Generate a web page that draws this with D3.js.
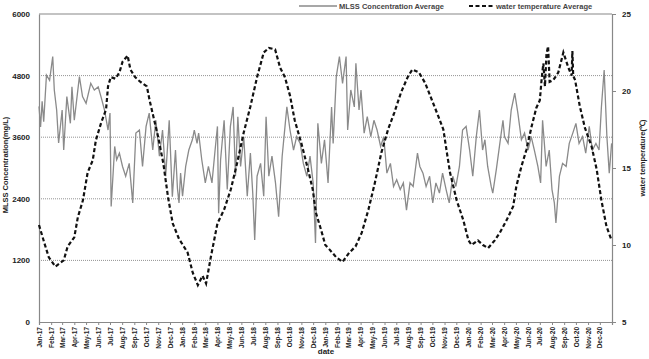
<!DOCTYPE html>
<html>
<head>
<meta charset="utf-8">
<script src="https://cdn.jsdelivr.net/npm/d3@7"></script>
<style>
  body { margin: 0; background: #fff; }
  text { font-family: "Liberation Sans", Arial, sans-serif; }
</style>
</head>
<body>
<div id="chart"></div>
<script>
// MLSS concentration average (mg/L)
var mlssDates = [
  "2017-01-01","2017-01-05","2017-01-09","2017-01-13","2017-01-20","2017-01-28","2017-02-05","2017-02-09","2017-02-15","2017-02-20",
  "2017-03-01","2017-03-05","2017-03-13","2017-03-22","2017-03-26","2017-04-01","2017-04-14","2017-04-22","2017-05-01","2017-05-13",
  "2017-05-22","2017-06-01","2017-06-08","2017-06-17","2017-06-26","2017-07-01","2017-07-04","2017-07-13","2017-07-18","2017-07-25",
  "2017-08-02","2017-08-10","2017-08-19","2017-08-28","2017-09-05","2017-09-14","2017-09-22","2017-10-01","2017-10-09","2017-10-18",
  "2017-10-26","2017-11-04","2017-11-12","2017-11-20","2017-11-29","2017-12-07","2017-12-15","2017-12-20","2017-12-24","2017-12-28",
  "2018-01-02","2018-01-10","2018-01-18","2018-01-27","2018-02-01","2018-02-08","2018-02-12","2018-02-20","2018-03-01","2018-03-09",
  "2018-03-18","2018-03-26","2018-04-01","2018-04-04","2018-04-09","2018-04-18","2018-04-26","2018-05-04","2018-05-11","2018-05-17",
  "2018-05-23","2018-05-30","2018-06-07","2018-06-16","2018-06-24","2018-06-30","2018-07-05","2018-07-11","2018-07-20","2018-07-28",
  "2018-08-03","2018-08-10","2018-08-18","2018-08-27","2018-09-04","2018-09-13","2018-09-21","2018-09-25","2018-10-03","2018-10-12",
  "2018-10-20","2018-10-29","2018-11-06","2018-11-15","2018-11-23","2018-12-01","2018-12-07","2018-12-13","2018-12-22","2018-12-30",
  "2019-01-04","2019-01-08","2019-01-17","2019-01-21","2019-01-29","2019-02-06","2019-02-14","2019-02-23","2019-02-27","2019-03-07",
  "2019-03-16","2019-03-20","2019-03-28","2019-04-02","2019-04-10","2019-04-18","2019-04-27","2019-05-05","2019-05-13","2019-05-22",
  "2019-05-30","2019-06-07","2019-06-16","2019-06-24","2019-07-02","2019-07-11","2019-07-19","2019-07-27","2019-08-05","2019-08-13",
  "2019-08-24","2019-08-30","2019-09-07","2019-09-15","2019-09-24","2019-10-02","2019-10-10","2019-10-19","2019-10-27","2019-11-05",
  "2019-11-13","2019-11-22","2019-11-30","2019-12-09","2019-12-17","2019-12-26","2020-01-04","2020-01-12","2020-01-21","2020-01-29",
  "2020-02-06","2020-02-12","2020-02-19","2020-02-28","2020-03-03","2020-03-12","2020-03-20","2020-03-29","2020-04-02","2020-04-11",
  "2020-04-19","2020-04-28","2020-05-06","2020-05-15","2020-05-23","2020-06-01","2020-06-09","2020-06-17","2020-06-26","2020-07-03",
  "2020-07-08","2020-07-17","2020-07-25","2020-08-01","2020-08-07","2020-08-11","2020-08-20","2020-08-28","2020-09-06","2020-09-14",
  "2020-09-23","2020-10-01","2020-10-09","2020-10-18","2020-10-26","2020-11-04","2020-11-12","2020-11-21","2020-11-29","2020-12-05",
  "2020-12-12","2020-12-19","2020-12-25","2020-12-31"
];
var mlssValues = [
  4200,3800,4300,3900,4810,4710,5170,4520,4130,3490,
  4130,3350,4390,3870,4580,3930,4780,4390,4260,4650,
  4520,4580,4390,4130,3740,4070,2250,3420,3160,3290,
  3030,2840,3090,2320,3680,3740,3030,3810,4070,3350,
  3930,3230,3740,2840,3930,2440,3350,2600,2320,2900,
  2450,3030,3350,3550,3740,3480,3680,3160,2710,3030,
  2710,3350,3810,2120,3160,3930,2580,3810,4190,2840,
  4000,3030,3610,2450,3290,2510,1600,2840,3090,2450,
  4000,2840,3230,2710,2050,3230,3870,4190,3740,3350,
  3610,3480,3090,2840,3230,2710,1540,3870,3090,3550,
  3090,2710,4190,3480,4780,5170,4650,5170,3740,4520,
  4190,5040,4130,4520,3680,4000,3610,3930,3740,3420,
  3610,2900,3090,2640,2770,2580,2710,2180,2710,2640,
  3290,3030,2900,2640,2840,2320,2710,2510,2900,2580,
  2320,2840,2640,3030,3740,3810,3350,2840,3610,4130,
  3350,3550,3030,2640,2510,2970,3420,3930,3610,3480,
  4130,4460,4070,3550,3680,3350,3610,3350,3030,2710,
  3930,3030,3350,2580,2320,1930,2840,3090,3030,3480,
  3680,3870,3480,3610,3290,3810,3350,3480,3350,4190,
  4910,3610,2900,3480
];

// water temperature average (°C)
var tempDates = [
  "2017-01-01","2017-01-15","2017-01-26","2017-02-12","2017-03-05","2017-03-15","2017-04-01","2017-04-10","2017-04-23","2017-05-05",
  "2017-05-18","2017-05-26","2017-06-08","2017-06-21","2017-06-26","2017-07-03","2017-07-15","2017-07-25","2017-08-02","2017-08-15",
  "2017-08-22","2017-09-03","2017-09-16","2017-10-03","2017-10-10","2017-10-20","2017-11-01","2017-11-14","2017-11-26","2017-12-08",
  "2017-12-24","2018-01-15","2018-01-28","2018-02-10","2018-02-22","2018-03-03","2018-03-15","2018-04-01","2018-04-18","2018-05-05",
  "2018-05-21","2018-06-07","2018-06-24","2018-07-11","2018-07-28","2018-08-10","2018-08-26","2018-09-08","2018-09-20","2018-10-03",
  "2018-10-15","2018-11-01","2018-11-18","2018-11-30","2018-12-08","2018-12-21","2019-01-01","2019-01-12","2019-01-29","2019-02-14",
  "2019-03-03","2019-03-19","2019-04-04","2019-04-21","2019-05-07","2019-05-24","2019-06-10","2019-06-26","2019-07-13","2019-07-30",
  "2019-08-11","2019-08-28","2019-09-13","2019-09-30","2019-10-17","2019-10-29","2019-11-07","2019-11-15","2019-12-02","2019-12-19",
  "2020-01-01","2020-01-09","2020-01-25","2020-02-07","2020-02-20","2020-03-08","2020-03-21","2020-04-07","2020-04-24","2020-05-02",
  "2020-05-15","2020-05-28","2020-06-10","2020-06-22","2020-07-01","2020-07-06","2020-07-10","2020-07-14","2020-07-18","2020-07-22",
  "2020-07-26","2020-08-04","2020-08-17","2020-08-30","2020-09-12","2020-09-20","2020-09-22","2020-09-24","2020-09-29","2020-10-11",
  "2020-10-24","2020-11-10","2020-11-23","2020-12-05","2020-12-18","2020-12-31"
];
var tempValues = [
  11.3,10.1,9.2,8.6,9.0,9.9,10.5,11.8,12.9,14.7,
  15.5,16.8,17.9,18.8,20.3,20.9,20.8,21.2,21.9,22.3,
  21.4,20.9,20.6,20.3,19.4,18.3,17.0,15.3,13.1,11.4,
  10.4,9.5,8.2,7.4,8.0,7.5,9.2,11.4,12.3,13.6,
  15.3,17.3,19.0,20.9,22.5,22.8,22.7,21.5,20.9,19.7,
  18.1,16.6,14.9,13.6,12.1,11.0,10.0,9.7,9.2,8.9,
  9.5,9.9,10.8,12.3,14.0,16.0,17.5,18.6,19.9,20.9,
  21.4,21.2,20.5,19.4,18.3,17.5,16.0,14.7,12.9,11.6,
  10.3,10.0,10.3,10.0,9.8,10.3,10.8,11.6,12.5,13.8,
  15.1,16.2,17.7,18.9,19.4,20.9,21.8,20.3,22.4,22.9,
  20.6,20.7,21.2,22.5,21.5,21.0,22.6,21.0,20.7,19.0,
  17.6,16.4,14.9,12.9,11.2,10.3
];

var leftTicks = [0, 1200, 2400, 3600, 4800, 6000];
var rightTicks = [5, 10, 15, 20, 25];

var width = 649, height = 359;
var margin = {top: 14, right: 37, bottom: 37, left: 39};

var parse = d3.timeParse("%Y-%m-%d");
var mlss = mlssDates.map(function(d, i) { return {date: parse(d), value: mlssValues[i]}; });
var temp = tempDates.map(function(d, i) { return {date: parse(d), value: tempValues[i]}; });

var svg = d3.select('#chart')
            .append('svg')
            .attr('width', width)
            .attr('height', height);

var xScale = d3.scaleTime()
               .domain([parse("2017-01-01"), parse("2021-01-01")])
               .range([margin.left, width - margin.right]);
var yLeft = d3.scaleLinear()
              .domain([0, 6000])
              .range([height - margin.bottom, margin.top]);
var yRight = d3.scaleLinear()
               .domain([5, 25])
               .range([height - margin.bottom, margin.top]);

// grid lines
svg.append('g')
   .selectAll('line')
   .data(leftTicks.slice(1, 5))
   .enter().append('line')
   .attr('x1', margin.left).attr('x2', width - margin.right)
   .attr('y1', function(d) { return yLeft(d); })
   .attr('y2', function(d) { return yLeft(d); })
   .attr('stroke', '#777')
   .attr('stroke-width', 0.8)
   .attr('stroke-dasharray', '1,1');

// frame
svg.append('line')
   .attr('x1', margin.left).attr('x2', width - margin.right)
   .attr('y1', margin.top).attr('y2', margin.top)
   .attr('stroke', '#888').attr('stroke-width', 1.2);

var yAxisL = d3.axisLeft(yLeft).tickValues(leftTicks).tickFormat(d3.format("d")).tickSize(0).tickPadding(9);
var gL = svg.append('g')
            .attr('class', 'y axis')
            .attr('transform', 'translate(' + margin.left + ',0)')
            .call(yAxisL);

var yAxisR = d3.axisRight(yRight).tickValues(rightTicks).tickSize(4).tickPadding(6);
var gR = svg.append('g')
            .attr('class', 'y axis')
            .attr('transform', 'translate(' + (width - margin.right) + ',0)')
            .call(yAxisR);

var monthTicks = d3.timeMonth.range(parse("2017-01-01"), parse("2021-01-01"));
var xAxis = d3.axisBottom(xScale)
              .tickValues(monthTicks)
              .tickFormat(d3.timeFormat("%b-%y"))
              .tickSize(3)
              .tickPadding(2);
var gX = svg.append('g')
            .attr('class', 'x axis')
            .attr('transform', 'translate(0,' + (height - margin.bottom) + ')')
            .call(xAxis);

[gL, gR, gX].forEach(function(g) {
  g.select('.domain').attr('stroke', '#888').attr('stroke-width', 1.2);
  g.selectAll('.tick line').attr('stroke', '#888');
});
gL.selectAll('text').attr('font-size', 8).attr('font-weight', 'bold').attr('fill', '#222');
gR.selectAll('text').attr('font-size', 8).attr('font-weight', 'bold').attr('fill', '#222');
gX.selectAll('text')
  .attr('font-family', '"Liberation Sans Narrow", "Liberation Sans", sans-serif')
  .attr('font-size', 6.5)
  .attr('font-weight', 'bold')
  .attr('fill', '#222')
  .attr('text-anchor', 'end')
  .attr('dy', '0.32em')
  .attr('transform', 'translate(0,3) rotate(-90)')
  .attr('x', -2).attr('y', 0);

// series
var mlssLine = d3.line()
                 .x(function(d) { return xScale(d.date); })
                 .y(function(d) { return yLeft(d.value); });
var tempLine = d3.line()
                 .x(function(d) { return xScale(d.date); })
                 .y(function(d) { return yRight(d.value); });

svg.append('path')
   .datum(mlss)
   .attr('d', mlssLine)
   .attr('fill', 'none')
   .attr('stroke', '#8a8a8a')
   .attr('stroke-width', 1.3);

svg.append('path')
   .datum(temp)
   .attr('d', tempLine)
   .attr('fill', 'none')
   .attr('stroke', '#111')
   .attr('stroke-width', 2.2)
   .attr('stroke-dasharray', '4,2.5');

// axis titles
svg.append('text')
   .attr('transform', 'translate(8,165) rotate(-90)')
   .attr('text-anchor', 'middle')
   .attr('font-size', 7.5).attr('font-weight', 'bold').attr('fill', '#222')
   .text('MLSS Concentration(mg/L)');
svg.append('text')
   .attr('transform', 'translate(645,158) rotate(-90)')
   .attr('text-anchor', 'middle')
   .attr('font-size', 7.5).attr('font-weight', 'bold').attr('fill', '#222')
   .text('water temperature(\u2103)');
svg.append('text')
   .attr('x', 326).attr('y', 354)
   .attr('text-anchor', 'middle')
   .attr('font-size', 8).attr('font-weight', 'bold').attr('fill', '#222')
   .text('date');

// legend
var legend = svg.append('g').attr('transform', 'translate(0,6)');
legend.append('line').attr('x1', 299).attr('x2', 337).attr('y1', 0).attr('y2', 0)
      .attr('stroke', '#8a8a8a').attr('stroke-width', 1.3);
legend.append('text').attr('x', 339).attr('y', 2.5)
      .attr('font-size', 7.5).attr('font-weight', 'bold').attr('fill', '#444')
      .text('MLSS Concentration Average');
legend.append('line').attr('x1', 469).attr('x2', 493).attr('y1', 0).attr('y2', 0)
      .attr('stroke', '#111').attr('stroke-width', 2).attr('stroke-dasharray', '4,2.5');
legend.append('text').attr('x', 496).attr('y', 2.5)
      .attr('font-size', 7.5).attr('font-weight', 'bold').attr('fill', '#444')
      .text('water temperature Average');
</script>
</body>
</html>
